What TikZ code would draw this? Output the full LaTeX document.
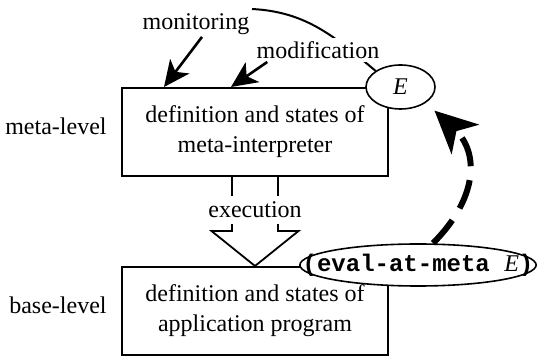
\documentclass[tikz,border=0pt]{standalone}
\usepackage{fontspec}
\setmainfont{Liberation Serif}
\setmonofont{Liberation Mono}
\usetikzlibrary{arrows.meta}
\usetikzlibrary{calc,positioning}
\usetikzlibrary{shapes.geometric}
\tikzstyle{level} = [rectangle, draw=black, line width=1pt, minimum width=133pt, minimum height=44pt, align=center, inner sep=0pt]
\tikzstyle{expr} = [ellipse, draw=black, line width=0.8pt, fill=white]
\tikzstyle{tag} = [inner sep=0pt]
\tikzstyle{arrow} = [line width=1.3pt,-{Stealth[length=13pt,width=12pt,inset=3.5pt]}]
\tikzstyle{hollow} = [line width=0.9pt, line join=miter]
\tikzstyle{reflect} = [line width=3pt, dash pattern=on 15pt off 7pt, -{Stealth[length=21pt,width=20pt,inset=6pt]}]

\begin{document}
\begin{tikzpicture}[x=0.5pt,y=-0.5pt,font=\fontsize{12}{15}\selectfont]
\useasboundingbox (0,0) rectangle (544,356);
\node (meta) [level] at (255,132) {definition and states of\\meta-interpreter};
\node (base) [level, below=44.5pt of meta] {definition and states of\\application program};
\node (metaside) [tag, left=7pt of meta, yshift=3pt] {meta-level};
\node (baseside) [tag, left=7pt of base, yshift=3pt] {base-level};
\node (E) [expr, minimum width=34.5pt, minimum height=22pt, inner sep=0pt] at ([xshift=5.75pt]meta.north east) {\textit{E}};
\node (eval) [expr, inner xsep=-15.9pt, inner ysep=0pt, minimum height=21pt] at ([xshift=14.5pt,yshift=0.5pt]base.north east) {\textbf{\texttt{(eval-at-meta }}\textit{E}\textbf{\texttt{)}}};
% loop from E over the top
\coordinate (loopend) at (252,9);
\draw [line width=1pt] (E.north west) to[out=140,in=-3] (loopend);
\node (mon) [tag] at (196,24) {monitoring};
\node (mod) [tag, fill=white, inner sep=1.5pt] at (318,50) {modification};
\draw [arrow] ([xshift=3pt,yshift=-1pt]mon.south) -- ([xshift=21.5pt]meta.north west);
\draw [arrow] ([xshift=7pt]mod.south west) -- ([xshift=55pt]meta.north west);
% execution arrow
\draw [hollow] ([xshift=-11.5pt]meta.south) -- ++(0,-27pt) -- ++(-10.25pt,0) -- (base.north)
  -- ($(meta.south)+(21.75pt,-27pt)$) -- ++(-10.25pt,0) -- ++(0,27pt);
\node (exec) [tag, fill=white, inner xsep=3pt, inner ysep=2.8pt] at ($(meta.south)!0.37!(base.north)$) {execution};
\draw [reflect] ([xshift=7.5pt]eval.north) to[out=45,in=-43,looseness=1.2] ([shift={(4.5pt,-3.75pt)}]E.south east);
\end{tikzpicture}
\end{document}
